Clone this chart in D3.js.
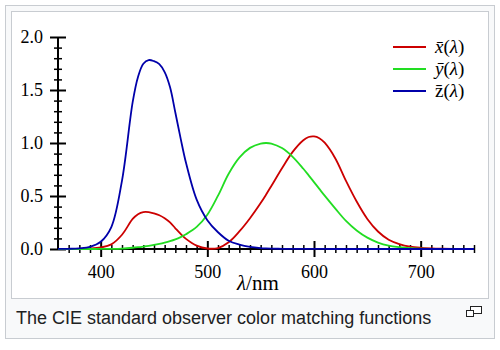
<!DOCTYPE html>
<html><head><meta charset="utf-8">
<script src="https://cdn.jsdelivr.net/npm/d3@7"></script>
<style>
html,body{margin:0;padding:0;background:#fff;}
svg{display:block;}
</style></head>
<body>
<svg id="c" width="500" height="350"></svg>
<script>
// CIE 1931 2° standard observer colour matching functions
const wavelengths = [360,370,380,390,400,410,420,430,435,440,445,450,455,460,465,470,475,480,490,500,510,520,530,540,550,555,560,570,580,590,595,600,605,610,620,630,640,650,660,670,680,690,700,710,720,730,740,750];
const xBar = [0.00013,0.00041,0.00137,0.00424,0.01431,0.04351,0.13438,0.2839,0.3285,0.34828,0.34806,0.3362,0.3187,0.2908,0.2511,0.19536,0.1421,0.09564,0.03201,0.0049,0.0093,0.06327,0.1655,0.2904,0.43345,0.51205,0.5945,0.7621,0.9163,1.0263,1.0567,1.0622,1.0456,1.0026,0.85445,0.6424,0.4479,0.2835,0.1649,0.0874,0.04677,0.0227,0.01136,0.00579,0.0029,0.00144,0.00069,0.00033];
const yBar = [0.000004,0.000012,0.000039,0.00012,0.000396,0.00121,0.004,0.0116,0.0168,0.023,0.0298,0.038,0.048,0.06,0.0739,0.09098,0.1126,0.13902,0.20802,0.323,0.503,0.71,0.862,0.954,0.99495,1.0,0.995,0.952,0.87,0.757,0.6949,0.631,0.5668,0.503,0.381,0.265,0.175,0.107,0.061,0.032,0.017,0.00821,0.0041,0.00209,0.00105,0.00052,0.00025,0.00012];
const zBar = [0.000606,0.00195,0.00645,0.02005,0.06785,0.2074,0.6456,1.3856,1.62296,1.74706,1.7826,1.77211,1.7441,1.6692,1.5281,1.28764,1.0419,0.81295,0.46518,0.272,0.1582,0.07825,0.04216,0.0203,0.00875,0.00575,0.0039,0.0021,0.00165,0.0011,0.001,0.0008,0.0006,0.00034,0.00019,0.00005,0.00002,0,0,0,0,0,0,0,0,0,0,0];
const seriesNames = ["x","y","z"];
const seriesColors = ["#cc0000","#22dd22","#0000aa"];
const xMajorTicks = [400,500,600,700];
const yMajorTicks = [0.0,0.5,1.0,1.5,2.0];
const caption = "The CIE standard observer color matching functions";

const svg = d3.select("#c");
// frames
svg.append("rect").attr("x",5.5).attr("y",5.5).attr("width",489).attr("height",333)
  .attr("fill","#f8f9fa").attr("stroke","#c8ccd1");
svg.append("rect").attr("x",11.5).attr("y",11.5).attr("width",477).attr("height",287)
  .attr("fill","#fff").attr("stroke","#c8ccd1");

const x = d3.scaleLinear().domain([360,750]).range([58,474]);
const y = d3.scaleLinear().domain([0,2]).range([249,37]);

const serif = "'Liberation Serif','DejaVu Serif',serif";

// minor ticks
const xMinor = d3.range(370,751,10).filter(v=>v%100!==0);
const yMinor = d3.range(1,20).filter(v=>v%5!==0).map(v=>v/10);

const gx = svg.append("g").attr("transform",`translate(0,${y(0)})`);
const gy = svg.append("g").attr("transform",`translate(${x(360)},0)`);

gx.append("g").call(d3.axisBottom(x).tickValues(xMinor).tickSize(4).tickFormat(""))
  .call(g=>{g.select(".domain").remove(); g.selectAll("line").attr("y1",-4).attr("y2",4).attr("stroke","#000").attr("stroke-width",1.5);});
gy.append("g").call(d3.axisLeft(y).tickValues(yMinor).tickSize(4).tickFormat(""))
  .call(g=>{g.select(".domain").remove(); g.selectAll("line").attr("x1",-4).attr("x2",4).attr("stroke","#000").attr("stroke-width",1.5);});

gx.append("g").call(d3.axisBottom(x).tickValues(xMajorTicks).tickSize(8).tickPadding(8).tickFormat(d3.format("d")))
  .call(g=>{
    g.select(".domain").attr("d",`M${x(360)},0H${x(750)}`).attr("stroke","#000").attr("stroke-width",2);
    g.selectAll("line").attr("y1",-8).attr("y2",8).attr("stroke","#000").attr("stroke-width",2);
    g.selectAll("text").attr("font-family",serif).attr("font-size",18).attr("fill","#000");
  });
gy.append("g").call(d3.axisLeft(y).tickValues(yMajorTicks).tickSize(8).tickPadding(7).tickFormat(d3.format(".1f")))
  .call(g=>{
    g.select(".domain").attr("d",`M0,${y(2)}V${y(0)}`).attr("stroke","#000").attr("stroke-width",2);
    g.selectAll("line").attr("x1",-8).attr("x2",8).attr("stroke","#000").attr("stroke-width",2);
    g.selectAll("text").attr("font-family",serif).attr("font-size",18).attr("fill","#000");
  });

// curves
const data = [xBar,yBar,zBar];
const line = d3.line().x((d,i)=>x(wavelengths[i])).y(d=>y(d)).curve(d3.curveCatmullRom);
data.forEach((vals,k)=>{
  svg.append("path").attr("d",line(vals)).attr("fill","none")
    .attr("stroke",seriesColors[k]).attr("stroke-width",1.8);
});

// axis title
const t = svg.append("text").attr("x",237).attr("y",290).attr("font-family",serif).attr("font-size",21).attr("fill","#000");
t.append("tspan").attr("font-style","italic").text("λ");
t.append("tspan").text("/nm");

// legend
const legY = [47,69,91];
seriesNames.forEach((n,k)=>{
  svg.append("line").attr("x1",393).attr("x2",426).attr("y1",legY[k]).attr("y2",legY[k])
    .attr("stroke",seriesColors[k]).attr("stroke-width",1.8);
  const tt = svg.append("text").attr("x",435).attr("y",legY[k]+6).attr("font-family",serif).attr("font-size",19).attr("fill","#000");
  tt.append("tspan").attr("font-style", n==="z" ? "normal" : "italic").text(n+"\u0304");
  tt.append("tspan").text("(");
  tt.append("tspan").attr("font-style","italic").text("λ");
  tt.append("tspan").text(")");
});

// caption
svg.append("text").attr("x",16).attr("y",324).attr("font-family","'Liberation Sans',Arial,sans-serif")
  .attr("font-size",18).attr("fill","#202122").text(caption);

// enlarge icon
svg.append("rect").attr("x",470.5).attr("y",306.5).attr("width",11).attr("height",7).attr("fill","#fff").attr("stroke","#222");
svg.append("rect").attr("x",466.5).attr("y",310.5).attr("width",7).attr("height",6).attr("fill","#fff").attr("stroke","#222");
</script>
</body></html>
